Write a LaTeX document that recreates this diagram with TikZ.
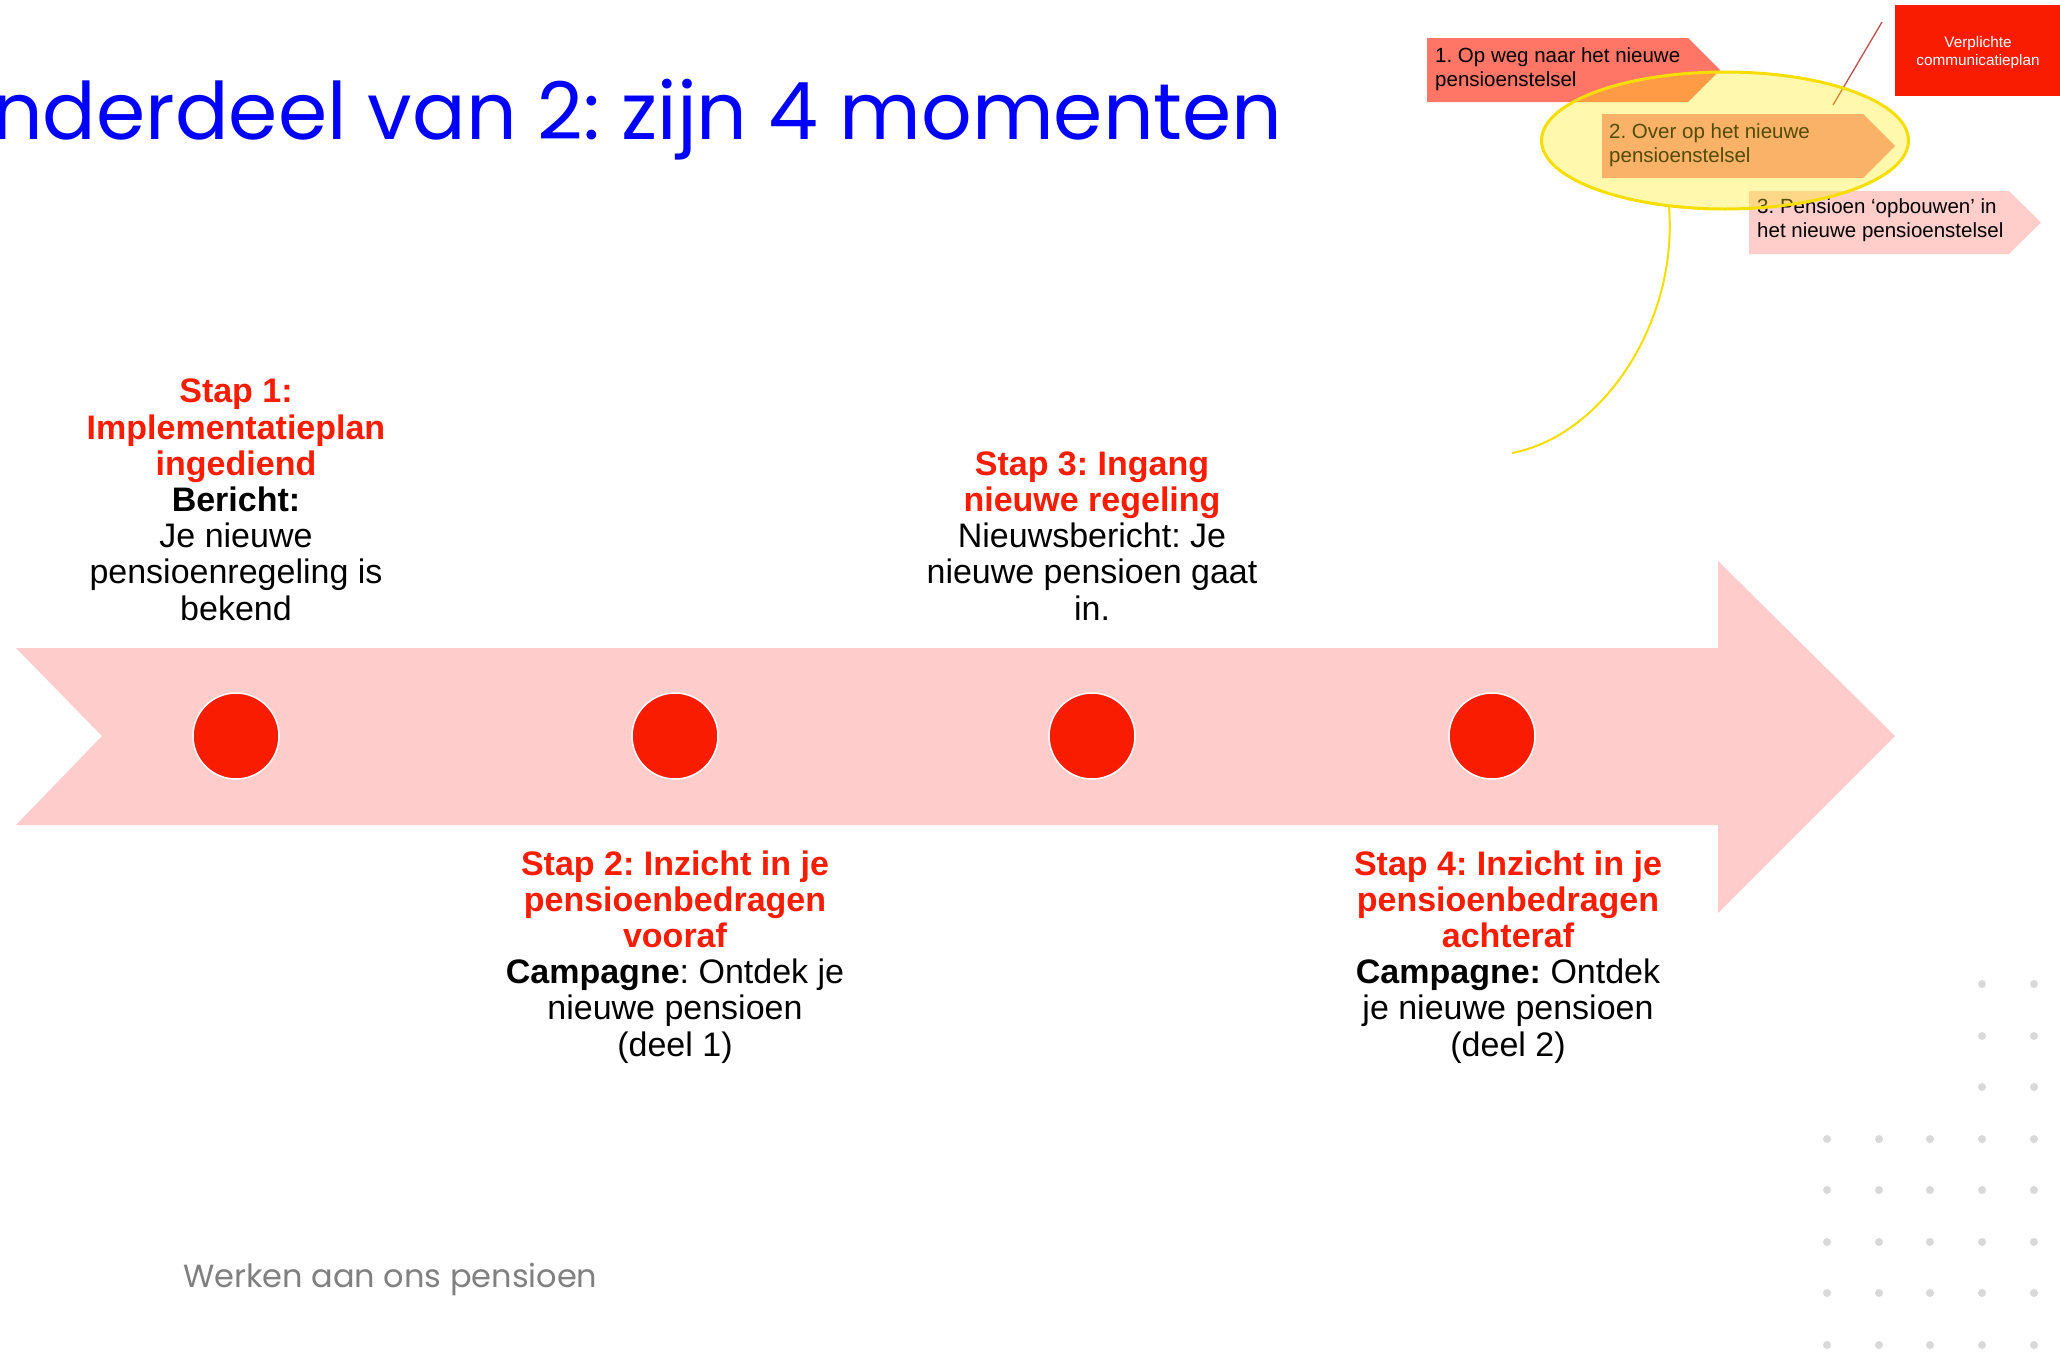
\documentclass[tikz,border=0pt]{standalone}
\usepackage{fontspec}
\setmainfont{Liberation Sans}
\newfontfamily\geofont{Poppins}
\usetikzlibrary{shapes.geometric}
\frenchspacing
\definecolor{arrowpink}{RGB}{255,204,204}
\definecolor{stepred}{RGB}{250,28,0}
\definecolor{boxone}{RGB}{255,118,102}
\definecolor{boxtwo}{RGB}{247,151,154}
\definecolor{boxthree}{RGB}{255,206,202}
\definecolor{hiyellow}{RGB}{255,236,0}
\definecolor{hiline}{RGB}{246,222,0}
\definecolor{linkred}{RGB}{192,80,77}
\definecolor{dotgrey}{RGB}{217,217,217}
\definecolor{footgrey}{RGB}{128,128,128}
\definecolor{titleblue}{RGB}{0,0,255}
\newcommand{\rb}[1]{\textcolor{stepred}{\bfseries #1}}
\tikzset{
  milestone/.style={circle, fill=stepred, draw=white, line width=1.5pt, minimum size=86pt, inner sep=0},
  steptext/.style={anchor=base, align=center, inner sep=0, font=\frenchspacing\fontsize{34}{36.2}\selectfont},
  boxtext/.style={anchor=base west, align=left, inner sep=0, font=\frenchspacing\fontsize{20.5}{23.8}\selectfont},
  greydot/.style={fill=dotgrey},
}
\begin{document}
\begin{tikzpicture}[x=1pt,y=-1pt]
\useasboundingbox (0,0) rectangle (2060,1352);
\clip (0,0) rectangle (2060,1352);
\fill[white] (0,0) rectangle (2060,1352);

% title and footer
\node[anchor=base west, inner sep=0, font=\frenchspacing\geofont\fontsize{79.3}{90}\selectfont, text=titleblue] (title) at (-8,139) {nderdeel van 2: zijn 4 momenten};
\node[anchor=base west, inner sep=0, font=\geofont\fontsize{32}{38}\selectfont, text=footgrey] (footer) at (183,1287) {Werken aan ons pensioen};

% big timeline arrow
\fill[arrowpink] (16,648) -- (1718,648) -- (1718,561) -- (1895,736) -- (1718,913) -- (1718,825) -- (16,825) -- (102,736) -- cycle;

% milestones
\node[milestone] (m1) at (236,736) {};
\node[milestone] (m2) at (675,736) {};
\node[milestone] (m3) at (1092,736) {};
\node[milestone] (m4) at (1492,736) {};

% step texts (base anchor = last line baseline)
\node[steptext] (s1) at (236,620) {\rb{Stap 1:}\\\rb{Implementatieplan}\\\rb{ingediend}\\\textbf{Bericht:}\\Je nieuwe\\pensioenregeling is\\bekend};
\node[steptext] (s3) at (1092,620) {\rb{Stap 3: Ingang}\\\rb{nieuwe regeling}\\Nieuwsbericht: Je\\nieuwe pensioen gaat\\in.};
\node[steptext] (s2) at (675,1056) {\rb{Stap 2: Inzicht in je}\\\rb{pensioenbedragen}\\\rb{vooraf}\\\textbf{Campagne}: Ontdek je\\nieuwe pensioen\\(deel 1)};
\node[steptext] (s4) at (1508,1056) {\rb{Stap 4: Inzicht in je}\\\rb{pensioenbedragen}\\\rb{achteraf}\\\textbf{Campagne:} Ontdek\\je nieuwe pensioen\\(deel 2)};

% phase chevrons
\fill[boxone] (1427,38) -- (1688,38) -- (1720,70) -- (1688,102) -- (1427,102) -- cycle;
\node[boxtext] (b1) at (1435,86) {1. Op weg naar het nieuwe\\pensioenstelsel};
\fill[boxtwo] (1602,114) -- (1863,114) -- (1895,146) -- (1863,178) -- (1602,178) -- cycle;
\node[boxtext] (b2) at (1609,162) {2. Over op het nieuwe\\pensioenstelsel};
\fill[boxthree] (1749,191) -- (2009,191) -- (2041,222.5) -- (2009,254) -- (1749,254) -- cycle;
\node[boxtext] (b3) at (1757,237) {3. Pensioen ‘opbouwen\char"0027{} in\\het nieuwe pensioenstelsel};

% red label box
\fill[stepred] (1895,5) rectangle (2070,96);
\node[anchor=base, align=center, inner sep=0, text=white, font=\fontsize{15.3}{18}\selectfont] (plan) at (1978,65) {Verplichte\\communicatieplan};
\coordinate (lineA) at (1882,22);
\coordinate (lineB) at (1833,105);
\draw[linkred, line width=1.3pt] (lineA) -- (lineB);

% highlight ellipse
\node[ellipse, draw=hiline, line width=3pt, fill=hiyellow, fill opacity=0.32, minimum width=367pt, minimum height=137pt, inner sep=0] (hl) at (1725,140.5) {};
\coordinate (curveEnd) at (1512,453);
\draw[hiline, line width=2pt] (hl.230) .. controls (1678,320) and (1605,435) .. (curveEnd);

% decorative dots
\foreach \yy in {984,1036,1087} {
  \foreach \xx in {1982,2034} { \fill[greydot] (\xx,\yy) circle [radius=4pt]; }
}
\foreach \yy in {1139,1190,1242,1293,1345} {
  \foreach \xx in {1827,1879,1930,1982,2034} { \fill[greydot] (\xx,\yy) circle [radius=4pt]; }
}
\end{tikzpicture}
\end{document}
